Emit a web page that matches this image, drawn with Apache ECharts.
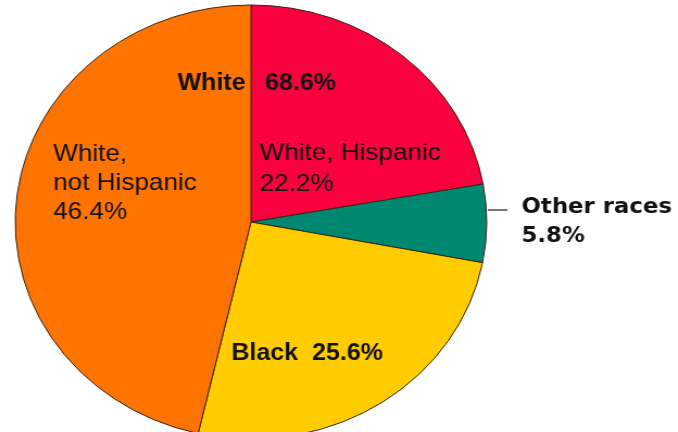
<!DOCTYPE html>
<html>
<head>
<meta charset="utf-8">
<script src="https://cdn.jsdelivr.net/npm/echarts@6/dist/echarts.min.js"></script>
<style>
  html, body { margin: 0; padding: 0; background: #fff; overflow: hidden; }
  /* the original pie is a circle stretched sideways */
  #main { width: 624px; height: 432px; transform: scaleX(1.0865); transform-origin: 0 0; }
</style>
</head>
<body>
<div id="main"></div>
<script>
  // slices, clockwise from 12 o'clock
  const categories = ["White, Hispanic", "Other races", "Black", "White,\nnot Hispanic"];
  const shares = [22.2, 5.8, 25.6, 46.4];
  const colors = ["#fa003f", "#00876f", "#ffcc00", "#ff7300"];
  // white total = hispanic + not hispanic
  const whiteLabel = "White";
  const whiteTotal = (shares[0] + shares[3]).toFixed(1) + "%";

  // where each label sits (chart px, before the stretch)
  const labelPos = [
    { x: 239, y: 138 },
    { x: 480, y: 193 },
    { x: 213, y: 340 },
    { x: 49, y: 140 },
  ];

  const plain = { fontFamily: "Liberation Sans", fontSize: 24, color: "#111", lineHeight: 31 };
  const bold = { fontFamily: "Liberation Sans", fontSize: 23, fontWeight: "bold", color: "#111", lineHeight: 28 };

  const data = categories.map((name, i) => {
    let item = { name: name, value: shares[i], itemStyle: { color: colors[i] } };
    if (i == 0) item.label = Object.assign({ position: "inside", align: "left" }, plain);
    if (i == 3) item.label = Object.assign({ position: "inside", align: "left" }, plain, { lineHeight: 29 });
    if (i == 2) item.label = Object.assign({ position: "inside", align: "left", formatter: "{b}  {c}%" }, bold);
    if (i == 1) {
      item.label = Object.assign({ position: "outside", align: "left" }, bold, {
        fontFamily: "DejaVu Sans", fontSize: 21, lineHeight: 29,
      });
      item.labelLine = { show: true, length: 8, length2: 10, lineStyle: { color: "#777", width: 2 } };
    }
    return item;
  });

  let myChart = echarts.init(document.getElementById("main"));
  let option = {
    animation: false,
    backgroundColor: "#fff",
    graphic: [
      {
        type: "text", x: 226, y: 84, z: 100,
        style: { text: whiteLabel, align: "right", verticalAlign: "middle",
          fontFamily: "Liberation Sans", fontSize: 23, fontWeight: "bold", fill: "#111" },
      },
      {
        type: "text", x: 244, y: 84, z: 100,
        style: { text: whiteTotal, align: "left", verticalAlign: "middle",
          fontFamily: "Liberation Sans", fontSize: 23, fontWeight: "bold", fill: "#111" },
      },
    ],
    series: [
      {
        type: "pie",
        center: [231, 222],
        radius: [0, 217],
        startAngle: 90,
        clockwise: true,
        avoidLabelOverlap: false,
        itemStyle: { borderColor: "#3a2418", borderWidth: 1 },
        label: { show: true, formatter: "{b}\n{c}%" },
        labelLine: { show: false },
        emphasis: { disabled: true },
        labelLayout: function (params) {
          let p = labelPos[params.dataIndex];
          let res = { x: p.x, y: p.y, align: "left", verticalAlign: "top" };
          if (params.dataIndex == 1) {
            res.labelLinePoints = [[449, 210], [458, 210], [467, 210]];
          }
          return res;
        },
        data: data,
      },
    ],
  };
  option && myChart.setOption(option);
</script>
</body>
</html>
